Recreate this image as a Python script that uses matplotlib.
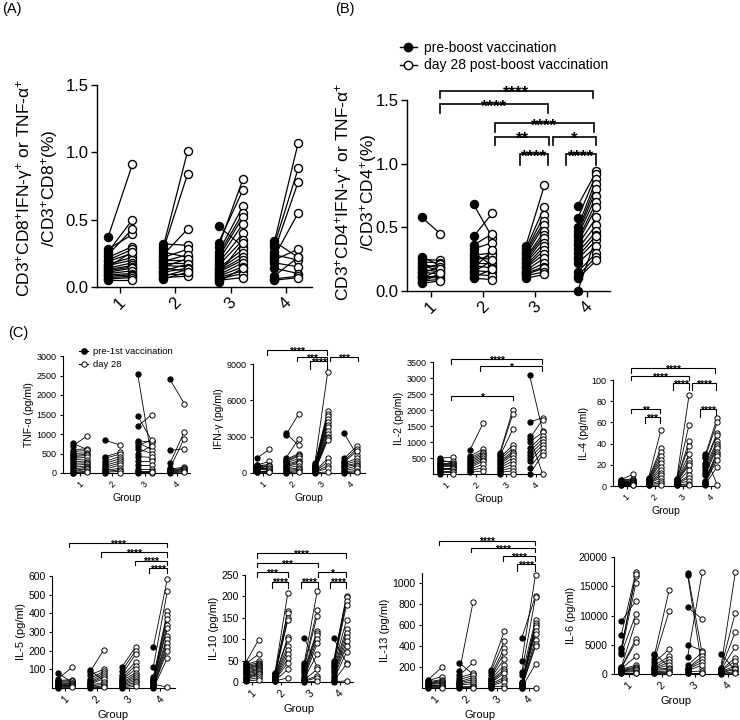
import matplotlib
matplotlib.use('Agg')
import matplotlib.pyplot as plt
from matplotlib.lines import Line2D

plt.rcParams['font.family'] = ['Liberation Sans', 'DejaVu Sans']
plt.rcParams['mathtext.default'] = 'regular'

# ---- data: (A) CD8+ cytokine+ (%) per group, pre-boost vs day 28 post-boost ----
a_pre = [
    [0.37, 0.28, 0.26, 0.24, 0.22, 0.20, 0.19, 0.17, 0.16, 0.15, 0.14, 0.13, 0.12, 0.11, 0.10, 0.09, 0.08, 0.07, 0.06, 0.05],
    [0.32, 0.30, 0.28, 0.26, 0.24, 0.22, 0.20, 0.19, 0.18, 0.16, 0.15, 0.14, 0.12, 0.11, 0.10, 0.08, 0.07, 0.06],
    [0.45, 0.33, 0.30, 0.26, 0.24, 0.22, 0.20, 0.18, 0.16, 0.14, 0.13, 0.12, 0.11, 0.10, 0.09, 0.08, 0.07, 0.06, 0.05, 0.04],
    [0.34, 0.32, 0.30, 0.26, 0.24, 0.22, 0.20, 0.18, 0.14, 0.08, 0.06, 0.05],
]
a_post = [
    [0.91, 0.39, 0.50, 0.43, 0.30, 0.28, 0.25, 0.22, 0.20, 0.26, 0.18, 0.16, 0.15, 0.14, 0.12, 0.10, 0.09, 0.08, 0.07, 0.05],
    [0.31, 1.01, 0.84, 0.22, 0.43, 0.28, 0.20, 0.24, 0.18, 0.15, 0.21, 0.12, 0.17, 0.14, 0.10, 0.13, 0.08, 0.11],
    [0.30, 0.72, 0.80, 0.60, 0.55, 0.52, 0.47, 0.40, 0.35, 0.28, 0.25, 0.22, 0.20, 0.33, 0.18, 0.15, 0.12, 0.10, 0.07, 0.14],
    [0.22, 1.07, 0.88, 0.78, 0.20, 0.55, 0.28, 0.15, 0.10, 0.22, 0.08, 0.07],
]

# ---- (B) CD4+ cytokine+ (%) ----
b_pre = [
    [0.58, 0.27, 0.25, 0.23, 0.21, 0.20, 0.18, 0.17, 0.15, 0.14, 0.12, 0.11, 0.10, 0.08, 0.07, 0.06],
    [0.68, 0.43, 0.36, 0.33, 0.30, 0.28, 0.26, 0.24, 0.22, 0.20, 0.18, 0.16, 0.15, 0.13, 0.11, 0.10],
    [0.35, 0.33, 0.31, 0.30, 0.28, 0.26, 0.25, 0.23, 0.22, 0.20, 0.19, 0.18, 0.16, 0.15, 0.14, 0.13, 0.12, 0.10],
    [0.67, 0.57, 0.50, 0.47, 0.45, 0.43, 0.40, 0.38, 0.36, 0.33, 0.30, 0.27, 0.25, 0.22, 0.15, 0.12, 0.10, 0.00],
]
b_post = [
    [0.45, 0.20, 0.24, 0.22, 0.18, 0.16, 0.21, 0.15, 0.13, 0.19, 0.12, 0.10, 0.17, 0.09, 0.14, 0.08],
    [0.42, 0.61, 0.45, 0.38, 0.20, 0.30, 0.25, 0.28, 0.22, 0.18, 0.32, 0.15, 0.24, 0.12, 0.17, 0.09],
    [0.83, 0.66, 0.60, 0.55, 0.52, 0.47, 0.44, 0.42, 0.38, 0.35, 0.32, 0.29, 0.26, 0.22, 0.19, 0.18, 0.15, 0.13],
    [0.94, 0.92, 0.88, 0.84, 0.80, 0.75, 0.70, 0.66, 0.58, 0.52, 0.47, 0.44, 0.40, 0.35, 0.30, 0.27, 0.24, 0.43],
]
b_sig = [(1.17, 4.11, 1.574, 0.06, '****'), (1.17, 3.24, 1.466, 0.066, '****'),
         (2.23, 4.13, 1.317, 0.066, '****'), (2.23, 3.27, 1.212, 0.066, '**'),
         (3.34, 4.17, 1.212, 0.066, '*'), (2.71, 3.24, 1.073, 0.08, '****'),
         (3.60, 4.17, 1.073, 0.08, '****')]

# ---- (C) cytokines (pg/ml), pre-1st vaccination vs day 28 ----
tnf_pre = [[760, 700, 600, 550, 500, 450, 420, 380, 350, 300, 250, 200, 150, 100, 60, 30, 10, 0],
           [840, 420, 380, 300, 250, 200, 150, 100, 70, 40, 20, 0],
           [2550, 1470, 1200, 820, 780, 700, 620, 500, 420, 300, 200, 100, 50, 30, 0],
           [2400, 580, 250, 120, 100, 80, 60, 50, 30, 0]]
tnf_post = [[600, 950, 620, 580, 520, 480, 450, 400, 330, 280, 260, 220, 180, 150, 120, 100, 50, 20],
            [720, 530, 480, 420, 360, 300, 250, 200, 120, 80, 40, 0],
            [350, 820, 1500, 800, 600, 850, 500, 700, 400, 300, 200, 100, 50, 0, 30],
            [1780, 620, 1050, 880, 150, 120, 100, 80, 50, 30]]

ifn_pre = [[1200, 700, 650, 600, 550, 500, 450, 400, 350, 300, 250, 200, 150, 100, 50],
           [3300, 3100, 1200, 1100, 1000, 900, 800, 700, 600, 500, 400, 300, 200, 100, 0],
           [800, 700, 650, 600, 550, 500, 450, 400, 350, 300, 250, 200, 150, 120, 100, 80, 50, 0],
           [3300, 1200, 1000, 900, 800, 700, 600, 500, 300, 200, 100, 0]]
ifn_post = [[1950, 500, 950, 700, 300, 600, 450, 550, 400, 250, 350, 200, 100, 150, 50],
            [2300, 4850, 2800, 1600, 1500, 1400, 1200, 1000, 900, 800, 600, 400, 300, 200, 100],
            [8300, 5100, 4900, 4700, 4500, 4200, 4000, 3800, 3500, 3200, 3000, 2900, 2700, 1200, 900, 600, 400, 100],
            [1500, 2200, 2000, 1800, 1200, 1000, 800, 700, 600, 400, 200, 100]]
ifn_sig = [(1.13, 3.21, 10138, 360, '****'), (2.18, 3.21, 9584, 360, '***'),
           (2.63, 3.21, 9224, 640, '****'), (3.30, 4.25, 9584, 360, '***')]

il2_pre = [[500, 450, 400, 350, 320, 300, 280, 250, 200, 180, 150, 100, 50, 0],
           [750, 560, 500, 450, 400, 350, 300, 250, 200, 150, 100, 50],
           [650, 600, 550, 500, 450, 400, 350, 300, 250, 200, 150, 100, 50, 0],
           [3100, 1620, 1200, 1100, 1000, 800, 700, 600, 500, 400, 200, 0]]
il2_post = [[520, 330, 400, 350, 300, 280, 250, 220, 200, 180, 150, 100, 50, 0],
            [1580, 780, 700, 650, 600, 550, 500, 450, 400, 300, 200, 100],
            [2000, 1880, 1400, 900, 800, 700, 650, 600, 500, 400, 300, 200, 100, 0],
            [1350, 1760, 0, 1700, 1300, 1200, 1100, 1000, 900, 800, 700, 600]]
il2_sig = [(1.15, 4.21, 3594, 145, '****'), (2.12, 4.21, 3365, 156, '*'),
           (1.15, 3.24, 2448, 146, '*')]

il4_pre = [[6, 5.5, 5, 4.5, 4, 3.5, 3.2, 3, 2.5, 2.2, 2, 1.5, 1, 0.5],
           [8, 7, 6.5, 6, 5, 4.5, 4, 3.5, 3, 2.5, 2, 1.5, 1, 0.5],
           [7, 6.5, 6, 5.5, 5, 4.5, 4, 3.5, 3, 2.5, 2, 1.5, 1, 0.5],
           [30, 28, 26, 22, 20, 18, 15, 12, 10, 5, 4, 3, 2, 1]]
il4_post = [[11, 7, 6, 5, 4.5, 4, 3.5, 3, 2.8, 2.5, 2, 1.5, 1, 0.8],
            [53, 36, 32, 28, 25, 22, 18, 15, 12, 10, 8, 5, 3, 1],
            [86, 58, 42, 38, 30, 25, 22, 20, 15, 10, 8, 5, 2, 1],
            [1, 64, 60, 50, 48, 42, 40, 38, 36, 32, 30, 28, 25, 18]]
il4_sig = [(1.16, 4.15, 111, 4, '****'), (1.16, 3.20, 103.8, 3.8, '****'),
           (2.64, 3.20, 96.9, 6.3, '****'), (3.31, 4.18, 96.9, 6.3, '****'),
           (1.16, 2.18, 72.3, 3.7, '**'), (1.65, 2.18, 65.4, 6.3, '***'),
           (3.62, 4.18, 72.3, 6.9, '****')]

il5_pre = [[80, 50, 40, 35, 30, 25, 20, 18, 15, 10, 5, 0],
           [95, 85, 70, 50, 40, 30, 25, 20, 15, 10, 5, 0],
           [110, 90, 70, 60, 50, 45, 40, 30, 25, 20, 15, 10, 5, 0],
           [220, 115, 60, 50, 45, 40, 35, 30, 25, 20, 15, 10, 5, 0]]
il5_post = [[30, 110, 45, 40, 35, 28, 25, 20, 15, 12, 10, 5],
            [40, 205, 100, 90, 80, 70, 60, 50, 30, 20, 10, 5],
            [220, 200, 180, 140, 120, 100, 80, 70, 60, 50, 40, 30, 20, 10],
            [585, 520, 410, 390, 370, 340, 320, 280, 260, 5, 240, 220, 200, 160]]
il5_sig = [(1.14, 4.20, 776, 23, '****'), (2.13, 4.20, 728, 24, '****'),
           (3.20, 4.20, 683, 24, '****'), (3.64, 4.20, 642, 27, '****')]

il10_pre = [[45, 42, 40, 38, 35, 32, 30, 28, 25, 22, 20, 18, 15, 12, 10, 8, 5, 2],
            [22, 20, 18, 16, 15, 14, 12, 10, 8, 6, 5, 4, 3, 2],
            [103, 45, 40, 35, 30, 25, 20, 15, 10, 8, 5, 3, 2, 0],
            [102, 50, 45, 40, 38, 35, 30, 25, 20, 15, 10, 5, 2, 0]]
il10_post = [[98, 65, 50, 45, 42, 40, 38, 35, 32, 30, 28, 25, 22, 20, 18, 15, 10, 5],
             [208, 165, 162, 150, 145, 105, 100, 85, 75, 65, 55, 45, 30, 10],
             [35, 212, 168, 155, 120, 115, 110, 100, 90, 65, 30, 15, 10, 2],
             [45, 202, 198, 190, 180, 145, 125, 115, 105, 95, 85, 70, 42, 3]]
il10_sig = [(1.16, 4.21, 300.5, 10.5, '****'), (1.16, 3.24, 278.7, 9.7, '***'),
            (1.16, 2.22, 256, 10, '***'), (3.24, 4.21, 256, 10, '*'),
            (1.69, 2.22, 234.5, 15.5, '****'), (2.66, 3.24, 234.5, 15.5, '****'),
            (3.66, 4.21, 234.5, 15.5, '****')]

il13_pre = [[80, 70, 60, 50, 45, 40, 35, 30, 25, 20, 10, 0],
            [240, 160, 120, 100, 80, 60, 50, 40, 30, 20, 10, 0],
            [175, 150, 120, 100, 90, 80, 70, 60, 50, 40, 30, 20, 10, 0],
            [480, 260, 150, 120, 60, 50, 45, 40, 30, 20, 10, 5, 2, 0]]
il13_post = [[200, 110, 80, 70, 60, 50, 40, 30, 25, 20, 10, 0],
             [130, 825, 245, 140, 120, 100, 80, 60, 40, 20, 10, 0],
             [545, 450, 380, 340, 280, 220, 180, 160, 140, 100, 80, 60, 20, 0],
             [880, 1080, 870, 650, 620, 600, 580, 550, 520, 460, 420, 400, 230, 0]]
il13_sig = [(1.14, 4.20, 1410, 42, '****'), (2.14, 4.20, 1336, 38, '****'),
            (3.19, 4.20, 1260, 42, '****'), (3.62, 4.20, 1186, 64, '****')]

il6_pre = [[9000, 6700, 4400, 4200, 3700, 3500, 1200, 1100, 1000, 900, 800, 700, 600, 500, 400, 300, 200, 100],
           [3500, 3200, 2500, 2000, 1500, 1200, 1000, 900, 800, 600, 400, 200, 100],
           [17300, 17000, 11400, 5000, 2900, 1500, 1000, 900, 800, 600, 400, 200, 100],
           [3500, 1000, 900, 800, 700, 600, 500, 400, 300, 200, 100, 0]]
il6_post = [[12500, 17400, 16800, 17100, 15500, 10200, 9000, 6000, 5500, 3000, 1500, 1200, 1000, 800, 600, 400, 200, 100],
            [1200, 14300, 10700, 4200, 3000, 2500, 2000, 1500, 1000, 800, 500, 300, 100],
            [3500, 1000, 9400, 4000, 17400, 3700, 3000, 2500, 2000, 1500, 500, 200, 100],
            [600, 17400, 10500, 7200, 4600, 2800, 2200, 1400, 1000, 800, 400, 100]]

groups = ['1', '2', '3', '4']

W, H = 740, 720
fig = plt.figure(figsize=(W / 100, H / 100), dpi=100)


def add_ax(l, t, r, b):
    return fig.add_axes([l / W, 1 - b / H, (r - l) / W, (b - t) / H])


def style(ax, xlim, ylim, yticks, fs, lw, tlen):
    ax.set_xlim(*xlim)
    ax.set_ylim(*ylim)
    for s in ['top', 'right']:
        ax.spines[s].set_visible(False)
    for s in ['left', 'bottom']:
        ax.spines[s].set_linewidth(lw)
    ax.set_xticks([1, 2, 3, 4])
    ax.set_xticklabels(groups, rotation=45, ha='center')
    ax.set_yticks(yticks)
    ax.tick_params(labelsize=fs, width=lw, length=tlen, pad=2)


def pairs(ax, pre, post, off, ms, lw, mew):
    for g, (p0, p1) in enumerate(zip(pre, post), start=1):
        for a, b in zip(p0, p1):
            ax.plot([g - off, g + off], [a, b], color='black', lw=lw, zorder=2, clip_on=False)
        ax.plot([g - off] * len(p0), p0, 'o', ms=ms, mfc='black', mec='black', mew=mew,
                ls='none', zorder=3, clip_on=False)
        ax.plot([g + off] * len(p1), p1, 'o', ms=ms, mfc='white', mec='black', mew=mew,
                ls='none', zorder=4, clip_on=False)


def brackets(ax, specs, fs, lw):
    for x1, x2, y, leg, txt in specs:
        ax.plot([x1, x1, x2, x2], [y - leg, y, y, y - leg], color='black', lw=lw,
                clip_on=False, solid_joinstyle='miter')
        ax.annotate(txt, xy=((x1 + x2) / 2, y), xytext=(0, -0.45 * fs), textcoords='offset points',
                    ha='center', va='baseline', fontsize=fs, fontweight='bold', annotation_clip=False)


# ---- (A) ----
ax_a = add_ax(97, 85, 312, 287)
style(ax_a, (0.58, 4.47), (0, 1.5), [0, 0.5, 1.0, 1.5], 12, 1.0, 4)
ax_a.set_yticklabels(['0.0', '0.5', '1.0', '1.5'])
pairs(ax_a, a_pre, a_post, 0.22, 5.8, 0.9, 1.0)
fig.text(37 / W, 1 - 188 / H,
         'CD3$^{+}$CD8$^{+}$IFN-γ$^{+}$ or TNF-α$^{+}$\n/CD3$^{+}$CD8$^{+}$(%)',
         rotation=90, ha='center', va='center', fontsize=12.5, multialignment='center')

# ---- (B) ----
ax_b = add_ax(407, 100, 610, 291)
style(ax_b, (0.54, 4.44), (0, 1.5), [0, 0.5, 1.0, 1.5], 12, 1.0, 4)
ax_b.set_yticklabels(['0.0', '0.5', '1.0', '1.5'])
pairs(ax_b, b_pre, b_post, 0.18, 5.8, 0.9, 1.0)
brackets(ax_b, b_sig, 12, 1.2)
fig.text(356 / W, 1 - 192 / H,
         'CD3$^{+}$CD4$^{+}$IFN-γ$^{+}$ or TNF-α$^{+}$\n/CD3$^{+}$CD4$^{+}$(%)',
         rotation=90, ha='center', va='center', fontsize=12.5, multialignment='center')
hb = [Line2D([], [], color='black', lw=1, marker='o', ms=6, mfc='black', mec='black'),
      Line2D([], [], color='black', lw=1, marker='o', ms=6, mfc='white', mec='black', mew=1)]
fig.legend(hb, ['pre-boost vaccination', 'day 28 post-boost vaccination'],
           loc='upper left', bbox_to_anchor=(400 / W, 1 - 41 / H), bbox_transform=fig.transFigure,
           frameon=False, fontsize=10, handlelength=1.2, handletextpad=0.5,
           borderaxespad=0, borderpad=0, labelspacing=0.25)

# ---- (C) ----
c_panels = [
    ((63, 356, 190, 473), (0.47, 4.4), (0, 3000), [0, 500, 1000, 1500, 2000, 2500, 3000],
     'TNF-α (pg/ml)', tnf_pre, tnf_post, [], 6.5, 7.5),
    ((253, 364, 365, 473), (0.66, 4.5), (0, 9000), [0, 3000, 6000, 9000],
     'IFN-γ (pg/ml)', ifn_pre, ifn_post, ifn_sig, 6.5, 7.5),
    ((433, 362, 545, 474), (0.54, 4.3), (0, 3500), [500, 1000, 1500, 2000, 2500, 3000, 3500],
     'IL-2 (pg/ml)', il2_pre, il2_post, il2_sig, 6.5, 7.5),
    ((613, 380, 718, 486), (0.51, 4.25), (0, 100), [0, 20, 40, 60, 80, 100],
     'IL-4 (pg/ml)', il4_pre, il4_post, il4_sig, 6.5, 7.5),
    ((52, 576, 175, 688), (0.59, 4.46), (0, 600), [100, 200, 300, 400, 500, 600],
     'IL-5 (pg/ml)', il5_pre, il5_post, il5_sig, 7.5, 8),
    ((245, 575, 353, 682), (0.76, 4.44), (0, 250), [0, 50, 100, 150, 200, 250],
     'IL-10 (pg/ml)', il10_pre, il10_post, il10_sig, 7.5, 8),
    ((422, 573, 538, 688), (0.58, 4.3), (0, 1100), [200, 400, 600, 800, 1000],
     'IL-13 (pg/ml)', il13_pre, il13_post, il13_sig, 7.5, 8),
    ((614, 557, 738, 674), (0.56, 4.3), (0, 20000), [0, 5000, 10000, 15000, 20000],
     'IL-6 (pg/ml)', il6_pre, il6_post, [], 7.5, 8),
]

c_axes = []
for box, xl, yl, yt, lab, pre, post, sig, tfs, lfs in c_panels:
    ax = add_ax(*box)
    style(ax, xl, yl, yt, tfs, 0.8, 2.5)
    pairs(ax, pre, post, 0.22, 3.8, 0.6, 0.7)
    brackets(ax, sig, 7.5, 0.8)
    ax.set_ylabel(lab, fontsize=lfs, labelpad=2)
    ax.set_xlabel('Group', fontsize=lfs, labelpad=3)
    c_axes.append(ax)

hc = [Line2D([], [], color='black', lw=0.8, marker='o', ms=3.8, mfc='black', mec='black'),
      Line2D([], [], color='black', lw=0.8, marker='o', ms=3.8, mfc='white', mec='black', mew=0.7)]
fig.legend(hc, ['pre-1st vaccination', 'day 28'], loc='upper left',
           bbox_to_anchor=(79 / W, 1 - 347 / H), bbox_transform=fig.transFigure,
           frameon=False, fontsize=6.8, handlelength=1.0, handletextpad=0.5,
           borderaxespad=0, borderpad=0, labelspacing=0.45)

fig.text(2 / W, 1 - 2 / H, '(A)', ha='left', va='top', fontsize=10.5)
fig.text(335 / W, 1 - 2 / H, '(B)', ha='left', va='top', fontsize=10.5)
fig.text(8 / W, 1 - 326 / H, '(C)', ha='left', va='top', fontsize=10.5)

fig.savefig('out.png', dpi=100, facecolor='white')
plt.close(fig)
